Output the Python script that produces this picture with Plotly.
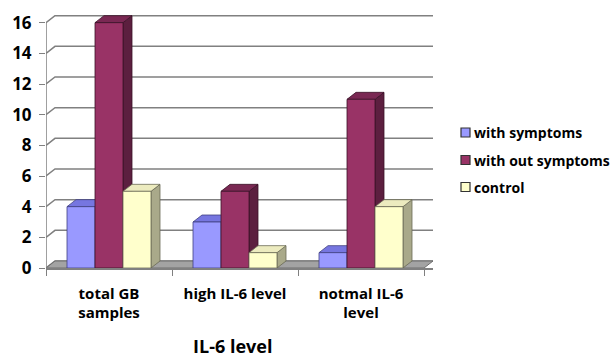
import plotly.graph_objects as go

categories = ["total GB<br>samples", "high IL-6 level", "notmal IL-6<br>level"]
series_names = ["with symptoms", "with out symptoms", "control"]
with_symptoms = [4, 3, 1]
without_symptoms = [16, 5, 11]
control = [5, 1, 4]
y_ticks = [0, 2, 4, 6, 8, 10, 12, 14, 16]

series = [with_symptoms, without_symptoms, control]
front_colors = ["#9999FF", "#993366", "#FFFFCC"]
side_colors = ["#6b6bcf", "#5c1f3f", "#a9a98a"]
top_colors = ["#7676e0", "#7a2853", "#ecebbf"]
edge_colors = ["#3f3f80", "#3a1227", "#6b6b55"]

W, H = 615, 357
ml, mr, mt, mb = 46, 182, 15, 89
pw = W - ml - mr
ph = H - mt - mb
dx_px, dy_px = 9, 7
x0, x1 = -0.5, len(categories) - 0.5
ymax = 16.5
cat_px = (pw - dx_px) / (x1 - x0)
xrange_ = [x0, x1 + dx_px / cat_px]
xpu = pw / (xrange_[1] - xrange_[0])
ypu = ph / ymax
ddx = dx_px / xpu
ddy = dy_px / ypu
bargap = 1 / 3
bw = (1 - bargap) / 3


def px_to_paper_x(px):
    return (px - ml) / pw


def px_to_paper_y(py):
    return (H - mb - py) / ph


fig = go.Figure()

# back wall gridlines
gx, gy = [], []
for v in y_ticks:
    gx += [x0, x0 + ddx, x1 + ddx, None]
    gy += [v, v + ddy, v + ddy, None]
fig.add_trace(go.Scatter(x=gx, y=gy, mode="lines", line=dict(color="#808080", width=1.5),
                         showlegend=False, hoverinfo="skip"))
# floor
fig.add_trace(go.Scatter(x=[x0, x1, x1 + ddx, x0 + ddx, x0], y=[0, 0, ddy, ddy, 0],
                         mode="lines", fill="toself", fillcolor="#a3a3a3",
                         line=dict(color="#6e6e6e", width=1), showlegend=False, hoverinfo="skip"))
# front y-axis line
fig.add_trace(go.Scatter(x=[x0, x0], y=[0, y_ticks[-1]], mode="lines",
                         line=dict(color="#808080", width=1.5), showlegend=False, hoverinfo="skip"))

# side and top faces (lower subplot, under the front faces)
for c in range(len(categories)):
    for i, vals in enumerate(series):
        v = vals[c]
        xc = c + (i - 1) * bw
        xl, xr = xc - bw / 2, xc + bw / 2
        fig.add_trace(go.Scatter(x=[xr, xr + ddx, xr + ddx, xr, xr], y=[0, ddy, v + ddy, v, 0],
                                 mode="lines", fill="toself", fillcolor=side_colors[i],
                                 line=dict(color=edge_colors[i], width=0.8),
                                 showlegend=False, hoverinfo="skip"))
        fig.add_trace(go.Scatter(x=[xl, xl + ddx, xr + ddx, xr, xl], y=[v, v + ddy, v + ddy, v, v],
                                 mode="lines", fill="toself", fillcolor=top_colors[i],
                                 line=dict(color=edge_colors[i], width=0.8),
                                 showlegend=False, hoverinfo="skip"))

# front faces
for i, vals in enumerate(series):
    fig.add_trace(go.Bar(x=list(range(len(categories))), y=vals, name=series_names[i],
                         marker=dict(color=front_colors[i], line=dict(color=edge_colors[i], width=0.8)),
                         xaxis="x2", yaxis="y2", showlegend=False))

font_family = "'Open Sans', Lato, Arial, sans-serif"

# custom legend (squares + text)
legend_centers = [132.5, 160, 187]
shapes, annotations = [], []
for i, name in enumerate(series_names):
    cy = legend_centers[i]
    shapes.append(dict(type="rect", xref="paper", yref="paper",
                       x0=px_to_paper_x(461), x1=px_to_paper_x(470),
                       y0=px_to_paper_y(cy + 4.5), y1=px_to_paper_y(cy - 4.5),
                       fillcolor=front_colors[i], line=dict(color="#333333", width=1.2)))
    annotations.append(dict(text="<b>" + name + "</b>", x=px_to_paper_x(472), y=px_to_paper_y(cy),
                            xref="paper", yref="paper", showarrow=False, xanchor="left",
                            yanchor="middle", font=dict(size=14, family=font_family, color="black")))
annotations.append(dict(text="<b>IL-6 level</b>", x=px_to_paper_x(232), y=px_to_paper_y(346),
                        xref="paper", yref="paper", showarrow=False, xanchor="center",
                        yanchor="middle", font=dict(size=18, family=font_family, color="black")))

fig.update_layout(
    width=W, height=H,
    margin=dict(l=ml, r=mr, t=mt, b=mb, autoexpand=False),
    paper_bgcolor="white", plot_bgcolor="white",
    barmode="group", bargap=bargap, bargroupgap=0,
    font=dict(family=font_family, color="black"),
    showlegend=False,
    xaxis=dict(range=xrange_, tickmode="array", tickvals=[0, 1, 2], ticktext=categories,
               ticks="", showgrid=False, zeroline=False, showline=True, linecolor="#808080",
               linewidth=1.5, ticklabelstandoff=11,
               tickfont=dict(size=15, family=font_family, weight="bold", color="black"),
               minor=dict(tickmode="array", tickvals=[-0.5, 0.5, 1.5, 2.5], ticks="outside",
                          ticklen=6, tickcolor="#808080", tickwidth=1.2, showgrid=False)),
    yaxis=dict(range=[0, ymax], tickmode="array", tickvals=y_ticks, ticks="outside", ticklen=6,
               tickcolor="#808080", tickwidth=1.2, showgrid=False, zeroline=False, showline=False,
               ticklabelstandoff=4,
               tickfont=dict(size=17, family=font_family, weight="bold", color="black")),
    xaxis2=dict(range=xrange_, overlaying="x", visible=False),
    yaxis2=dict(range=[0, ymax], overlaying="y", visible=False),
    shapes=shapes,
    annotations=annotations,
)

fig.write_html("out.html", config={"displayModeBar": False},
               post_script="document.body.style.margin='0';")
